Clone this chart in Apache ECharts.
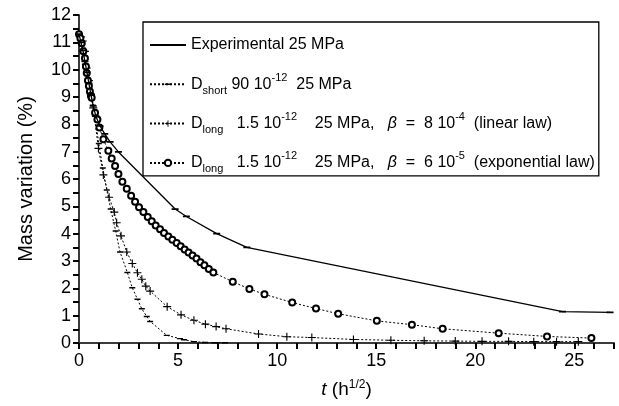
<!DOCTYPE html>
<html>
<head>
<meta charset="utf-8">
<script src="https://cdn.jsdelivr.net/npm/echarts@6/dist/echarts.min.js"></script>
<style>html,body{margin:0;padding:0;background:#fff}#c{width:619px;height:406px}</style>
</head>
<body>
<div id="c"></div>
<script>
// ---- data ----
const expT = [0, 0.1, 0.2, 0.3, 0.4, 0.5, 0.6, 0.72, 0.85, 1.06, 1.3, 1.57, 1.99, 4.85, 5.42, 6.95, 8.47, 24.4, 26.8];
const expY = [11.3, 11.0, 10.7, 10.3, 9.9, 9.5, 9.1, 8.67, 8.3, 7.94, 7.65, 7.36, 6.99, 4.9, 4.63, 4.0, 3.5, 1.15, 1.12];

const shortT = [0, 0.1, 0.2, 0.3, 0.4, 0.5, 0.6, 0.7, 0.8, 1.0, 1.2, 1.4, 1.6, 1.85, 2.07, 2.44, 2.69, 2.95, 3.17, 3.42, 3.59, 4.43, 5.1, 5.3, 5.8, 6.36, 6.87, 7.37];
const shortY = [11.3, 11.0, 10.6, 10.2, 9.8, 9.4, 9.0, 8.7, 8.3, 7.3, 6.4, 5.6, 4.9, 4.1, 3.33, 2.58, 2.02, 1.6, 1.25, 0.97, 0.79, 0.28, 0.16, 0.12, 0.05, 0.02, 0.01, 0.01];

const linT = [0, 0.1, 0.19, 0.3, 0.39, 0.5, 0.6, 0.72, 0.98, 1.23, 1.52, 1.78, 1.9, 2.12, 2.41, 2.69, 2.95, 3.17, 3.37, 3.59, 4.45, 5.15, 5.8, 6.38, 6.92, 7.42, 9.06, 10.49, 11.75, 13.85, 15.74, 17.42, 18.99, 20.34, 21.68, 22.95, 24.1, 25.2];
const linY = [11.3, 11.2, 11.05, 10.67, 10.06, 9.6, 9.1, 8.6, 7.12, 6.15, 5.33, 4.79, 4.4, 3.92, 3.33, 2.91, 2.57, 2.33, 2.08, 1.9, 1.33, 1.03, 0.83, 0.69, 0.6, 0.52, 0.33, 0.23, 0.2, 0.13, 0.1, 0.08, 0.07, 0.06, 0.06, 0.05, 0.05, 0.05];

const expoT = [0, 0.07, 0.14, 0.22, 0.3, 0.35, 0.39, 0.45, 0.5, 0.55, 0.6, 0.64, 0.81, 0.93, 1.03, 1.23, 1.48, 1.65, 1.82, 1.99, 2.19, 2.41, 2.63, 2.83, 3.03, 3.25, 3.47, 3.67, 3.87, 4.09, 4.29, 4.51, 4.71, 4.93, 5.13, 5.33, 5.53, 5.73, 5.93, 6.13, 6.33, 6.55, 6.78, 7.76, 8.6, 9.36, 10.76, 11.96, 13.08, 15.03, 16.8, 18.35, 21.18, 23.62, 25.86];
const expoY = [11.3, 11.15, 10.97, 10.67, 10.42, 10.12, 9.88, 9.6, 9.4, 9.2, 9.05, 8.97, 8.42, 8.18, 7.88, 7.45, 7.03, 6.75, 6.48, 6.18, 5.9, 5.64, 5.39, 5.17, 4.97, 4.79, 4.61, 4.45, 4.3, 4.16, 4.02, 3.9, 3.78, 3.66, 3.54, 3.42, 3.31, 3.2, 3.09, 2.95, 2.84, 2.71, 2.58, 2.24, 1.98, 1.78, 1.48, 1.26, 1.07, 0.81, 0.67, 0.52, 0.36, 0.24, 0.18];

const xTickLabels = [0, 5, 10, 15, 20, 25];
const yTickLabels = [0, 1, 2, 3, 4, 5, 6, 7, 8, 9, 10, 11, 12];

const seriesNames = ['exp', 'short', 'lin', 'expo'];
const legendTexts = {
  exp: 'Experimental 25 MPa',
  short: 'D{sub|short} 90 10{sup|-12}  25 MPa',
  lin: 'D{sub|long}   1.5 10{sup|-12}    25 MPa,   {i|β}  =  8 10{sup|-4}  (linear law)',
  expo: 'D{sub|long}   1.5 10{sup|-12}    25 MPa,   {i|β}  =  6 10{sup|-5}  (exponential law)'
};

const zip = (a, b) => a.map((v, i) => [v, b[i]]);
const FONT = '"Liberation Sans", Arial, Helvetica, sans-serif';
const plusPath = 'path://M4.3,0H5.7V4.3H10V5.7H5.7V10H4.3V5.7H0V4.3H4.3Z';
const dashPath = 'path://M0,0L0.01,0L0,0.01Z M0,3.8H10V6.2H0Z M10,10L9.99,10L10,9.99Z';

const chart = echarts.init(document.getElementById('c'), null, {renderer: 'canvas'});
chart.setOption({
  animation: false,
  backgroundColor: '#fff',
  textStyle: {fontFamily: FONT, color: '#000'},
  grid: {left: 79, right: 5, top: 15, bottom: 61, containLabel: false},
  legend: {
    orient: 'vertical',
    left: 143, top: 22,
    padding: [11, 4, 1, 6],
    itemGap: 15.3,
    itemWidth: 36, itemHeight: 8,
    borderColor: '#000', borderWidth: 1.3,
    backgroundColor: '#fff',
    data: seriesNames,
    formatter: n => legendTexts[n],
    textStyle: {
      fontFamily: FONT, fontSize: 16, color: '#000', lineHeight: 24,
      rich: {
        sub: {fontFamily: FONT, fontSize: 11, verticalAlign: 'bottom', lineHeight: 10, color: '#000'},
        sup: {fontFamily: FONT, fontSize: 11, verticalAlign: 'top', lineHeight: 12, color: '#000'},
        i: {fontFamily: FONT, fontSize: 16, fontStyle: 'italic', color: '#000'}
      }
    }
  },
  xAxis: {
    type: 'value', min: 0, max: 27, interval: 1,
    name: '{i|t} (h{sup|1/2})',
    nameLocation: 'middle', nameGap: 36,
    nameTextStyle: {
      fontFamily: FONT, fontSize: 19, color: '#000', lineHeight: 22,
      rich: {
        i: {fontFamily: FONT, fontSize: 19, fontStyle: 'italic', color: '#000'},
        sup: {fontFamily: FONT, fontSize: 12, verticalAlign: 'top', lineHeight: 12, color: '#000'}
      }
    },
    splitLine: {show: false},
    axisLine: {show: true, onZero: false, lineStyle: {color: '#3a3a3a', width: 2}},
    axisTick: {show: true, length: 6, inside: false, lineStyle: {color: '#000', width: 2}},
    axisLabel: {
      fontFamily: FONT, fontSize: 18, color: '#000', margin: 9, hideOverlap: false,
      formatter: v => (xTickLabels.indexOf(v) >= 0 ? String(v) : '')
    }
  },
  yAxis: {
    type: 'value', min: 0, max: 12, interval: 0.5,
    name: 'Mass variation (%)',
    nameLocation: 'middle', nameGap: 43,
    nameTextStyle: {fontFamily: FONT, fontSize: 20, color: '#000'},
    splitLine: {show: false},
    axisLine: {show: true, onZero: false, lineStyle: {color: '#3a3a3a', width: 2}},
    axisTick: {show: true, length: 6, inside: false, lineStyle: {color: '#000', width: 2}},
    axisLabel: {
      fontFamily: FONT, fontSize: 18, color: '#000', margin: 8, hideOverlap: false,
      formatter: v => (yTickLabels.indexOf(v) >= 0 ? String(v) : '')
    }
  },
  series: [
    {
      name: 'exp', type: 'line', data: zip(expT, expY),
      symbol: dashPath, symbolSize: 7, showAllSymbol: true,
      lineStyle: {color: '#000', width: 1.3, type: 'solid'},
      itemStyle: {color: '#000'}, z: 5
    },
    {
      name: 'short', type: 'line', data: zip(shortT, shortY),
      symbol: dashPath, symbolSize: 6, showAllSymbol: true,
      lineStyle: {color: '#000', width: 1, type: [2, 2]},
      itemStyle: {color: '#000'}
    },
    {
      name: 'lin', type: 'line', data: zip(linT, linY),
      symbol: plusPath, symbolSize: 8, showAllSymbol: true,
      lineStyle: {color: '#000', width: 1, type: [2, 2]},
      itemStyle: {color: '#000'}
    },
    {
      name: 'expo', type: 'line', data: zip(expoT, expoY),
      symbol: 'emptyCircle', symbolSize: 6, showAllSymbol: true,
      lineStyle: {color: '#000', width: 1, type: [2, 2]},
      itemStyle: {color: '#000', borderColor: '#000', borderWidth: 1.2}
    }
  ]
});
</script>
</body>
</html>
